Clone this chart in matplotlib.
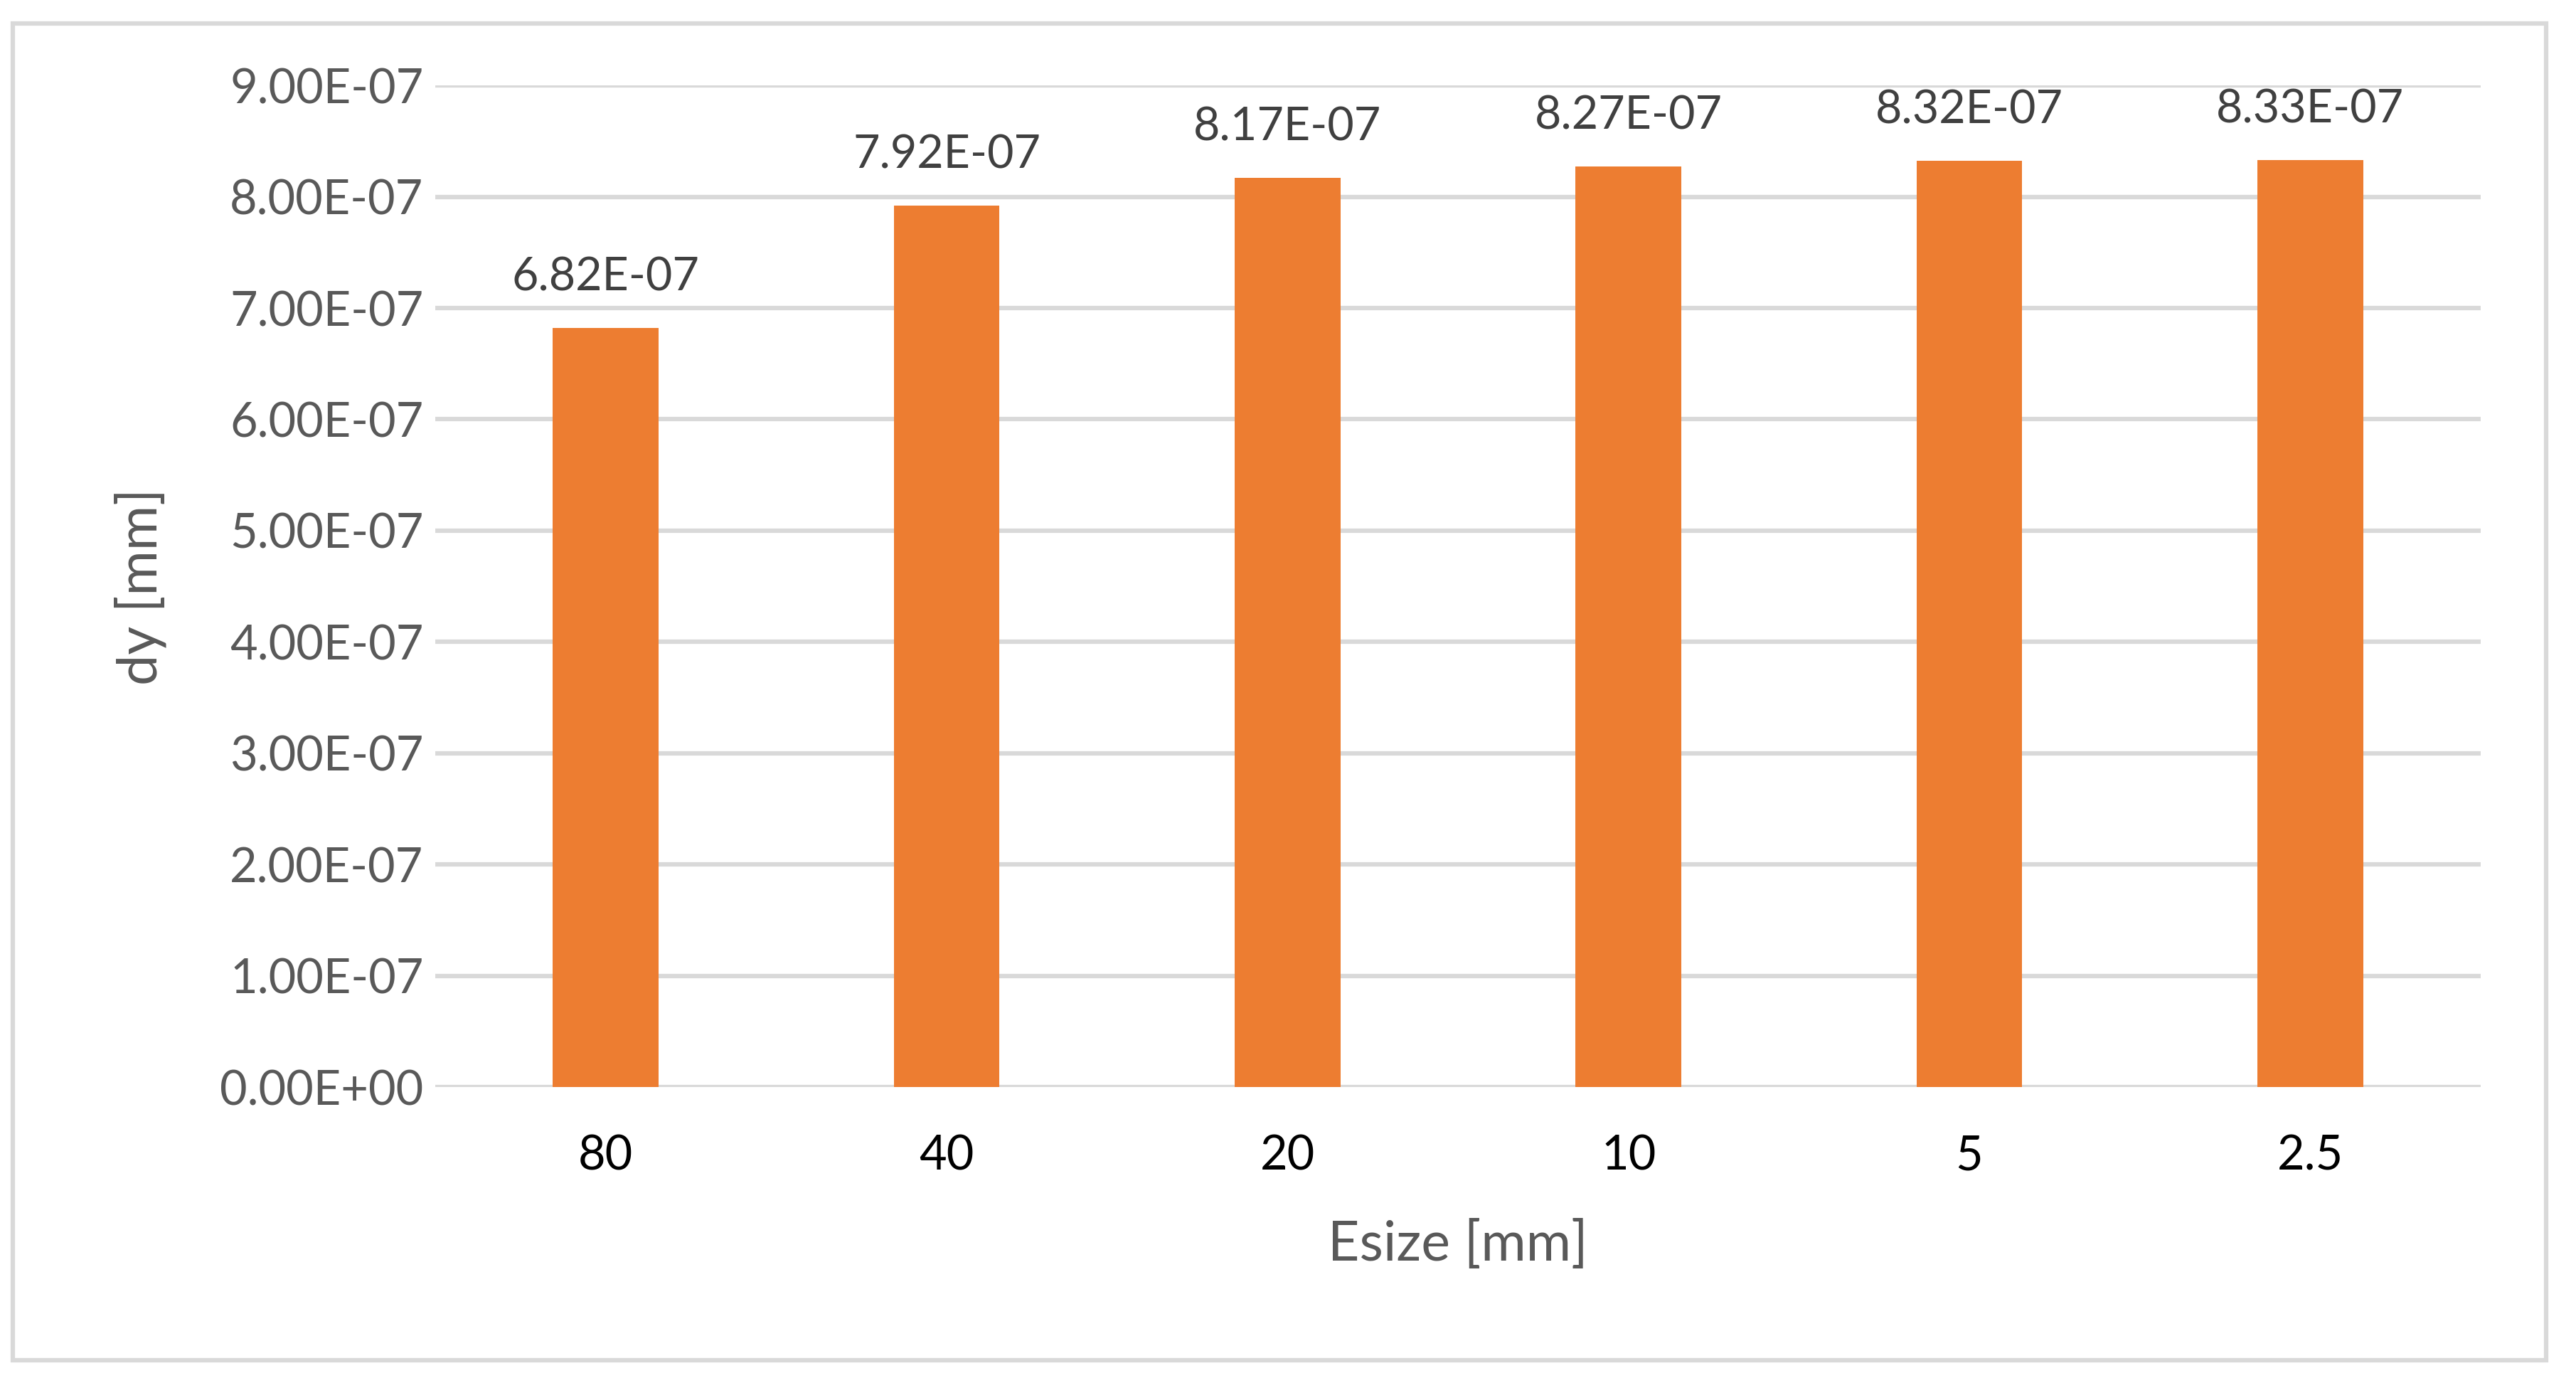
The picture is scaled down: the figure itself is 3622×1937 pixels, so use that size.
import matplotlib.pyplot as plt
from matplotlib.patches import Rectangle
from matplotlib.ticker import FormatStrFormatter, MultipleLocator

# element sizes and measured deflection
esize = ['80', '40', '20', '10', '5', '2.5']
dy = [6.82e-07, 7.92e-07, 8.17e-07, 8.27e-07, 8.32e-07, 8.33e-07]
dy_labels = ['6.82E-07', '7.92E-07', '8.17E-07', '8.27E-07', '8.32E-07', '8.33E-07']

plt.rcParams['font.family'] = ['Lato', 'DejaVu Sans']

fig = plt.figure(figsize=(3622 / 300, 1937 / 300), dpi=300)
ax = fig.add_axes([0.169, 0.211, 0.794, 0.727])

x = range(len(esize))
bars = ax.bar(x, dy, width=0.31, color='#ED7D31', zorder=3)

# value labels above the bars
for b, lab in zip(bars, dy_labels):
    ax.annotate(lab, (b.get_x() + b.get_width() / 2, b.get_height()),
                xytext=(0, 10), textcoords='offset points',
                ha='center', va='bottom', fontsize=15.5, color='#404040')

ax.set_xlim(-0.5, len(esize) - 0.5)
ax.set_ylim(0, 9e-07)
ax.yaxis.set_major_locator(MultipleLocator(1e-07))
ax.yaxis.set_major_formatter(FormatStrFormatter('%.2E'))
ax.set_xticks(list(x))
ax.set_xticklabels(esize)

ax.grid(axis='y', color='#D9D9D9', linewidth=1.5, zorder=0)
for s in ax.spines.values():
    s.set_visible(False)
ax.tick_params(axis='both', length=0)
ax.tick_params(axis='y', labelsize=16, labelcolor='#595959', pad=4)
ax.tick_params(axis='x', labelsize=16, labelcolor='black', pad=16)

ax.set_xlabel('Esize [mm]', fontsize=18.5, color='#595959', labelpad=14)
ax.set_ylabel('dy [mm]', fontsize=18.5, color='#595959', labelpad=18)

# light grey chart frame
fig.patches.append(Rectangle((0.005, 0.013), 0.9835, 0.970, transform=fig.transFigure,
                             fill=False, edgecolor='#D9D9D9', linewidth=1.5))

fig.savefig('out.png', dpi=300)
